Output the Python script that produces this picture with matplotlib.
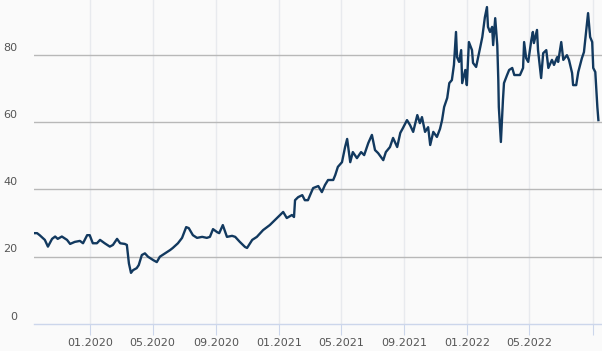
import matplotlib.pyplot as plt
import matplotlib.dates as mdates
from matplotlib.transforms import ScaledTranslation
import pandas as pd

dates = [
    "2019-09-14", "2019-09-20", "2019-09-25", "2019-10-05", "2019-10-11", "2019-10-19", "2019-10-25", "2019-10-30",
    "2019-11-07", "2019-11-17", "2019-11-23", "2019-12-02", "2019-12-12", "2019-12-18", "2019-12-26", "2019-12-31",
    "2020-01-06", "2020-01-14", "2020-01-20", "2020-01-29", "2020-02-08", "2020-02-14", "2020-02-22", "2020-02-28",
    "2020-03-08", "2020-03-12", "2020-03-16", "2020-03-20", "2020-03-24", "2020-03-31", "2020-04-04", "2020-04-10",
    "2020-04-16", "2020-04-22", "2020-05-02", "2020-05-09", "2020-05-15", "2020-05-25", "2020-06-04", "2020-06-09",
    "2020-06-19", "2020-06-27", "2020-07-05", "2020-07-10", "2020-07-18", "2020-07-26", "2020-08-05", "2020-08-14",
    "2020-08-20", "2020-08-26", "2020-09-03", "2020-09-07", "2020-09-14", "2020-09-22", "2020-10-02", "2020-10-08",
    "2020-10-17", "2020-10-27", "2020-10-31", "2020-11-10", "2020-11-19", "2020-12-01", "2020-12-14", "2020-12-24",
    "2021-01-03", "2021-01-09", "2021-01-16", "2021-01-26", "2021-01-30", "2021-02-01", "2021-02-07", "2021-02-15",
    "2021-02-20", "2021-02-26", "2021-03-08", "2021-03-18", "2021-03-25", "2021-03-31", "2021-04-06", "2021-04-16",
    "2021-04-20", "2021-04-25", "2021-05-03", "2021-05-09", "2021-05-13", "2021-05-19", "2021-05-24", "2021-06-01",
    "2021-06-09", "2021-06-15", "2021-06-23", "2021-06-30", "2021-07-06", "2021-07-12", "2021-07-22", "2021-07-27",
    "2021-08-04", "2021-08-10", "2021-08-18", "2021-08-24", "2021-08-29", "2021-09-06", "2021-09-12", "2021-09-18",
    "2021-09-26", "2021-10-01", "2021-10-05", "2021-10-11", "2021-10-17", "2021-10-21", "2021-10-27", "2021-11-03",
    "2021-11-09", "2021-11-13", "2021-11-17", "2021-11-23", "2021-11-27", "2021-12-02", "2021-12-06", "2021-12-10",
    "2021-12-12", "2021-12-16", "2021-12-20", "2021-12-22", "2021-12-28", "2021-12-31", "2022-01-04", "2022-01-10",
    "2022-01-12", "2022-01-18", "2022-01-22", "2022-01-26", "2022-01-30", "2022-01-31", "2022-02-04", "2022-02-08",
    "2022-02-10", "2022-02-14", "2022-02-18", "2022-02-20", "2022-02-24", "2022-02-28", "2022-03-02", "2022-03-03",
    "2022-03-07", "2022-03-11", "2022-03-13", "2022-03-19", "2022-03-23", "2022-03-29", "2022-04-02", "2022-04-07",
    "2022-04-13", "2022-04-19", "2022-04-21", "2022-04-25", "2022-04-29", "2022-05-05", "2022-05-08", "2022-05-10",
    "2022-05-16", "2022-05-18", "2022-05-24", "2022-05-28", "2022-06-03", "2022-06-07", "2022-06-14", "2022-06-18",
    "2022-06-24", "2022-06-26", "2022-07-02", "2022-07-06", "2022-07-13", "2022-07-17", "2022-07-23", "2022-07-25",
    "2022-07-31", "2022-08-04", "2022-08-11", "2022-08-15", "2022-08-19", "2022-08-23", "2022-08-27", "2022-08-31",
    "2022-09-02", "2022-09-06", "2022-09-10", "2022-09-12",
]

prices = [
    27.0, 27.0, 26.4, 25.0, 23.0, 25.3, 26.0, 25.3,
    26.0, 25.0, 23.8, 24.4, 24.7, 24.0, 26.4, 26.4,
    24.0, 24.0, 25.0, 24.0, 23.0, 23.5, 25.3, 24.0,
    23.8, 23.5, 18.0, 15.2, 16.0, 16.6, 17.5, 20.5,
    21.0, 20.0, 19.0, 18.4, 20.0, 21.0, 22.0, 22.6,
    24.0, 25.6, 28.8, 28.5, 26.4, 25.6, 25.9, 25.6,
    25.9, 28.2, 27.3, 27.0, 29.4, 25.9, 26.2, 25.9,
    24.4, 22.9, 22.6, 25.0, 25.9, 27.9, 29.4, 30.9,
    32.4, 33.3, 31.5, 32.4, 31.8, 36.8, 37.7, 38.3,
    36.8, 36.8, 40.4, 41.0, 39.2, 41.3, 42.8, 42.8,
    44.3, 46.7, 48.1, 52.6, 55.0, 48.1, 51.1, 49.3,
    51.1, 50.2, 53.8, 56.2, 51.7, 50.8, 48.7, 51.1,
    52.6, 55.3, 52.6, 56.8, 58.2, 60.6, 59.1, 57.1,
    62.1, 59.7, 61.5, 57.1, 58.5, 53.2, 57.1, 55.6,
    58.0, 60.6, 64.5, 67.2, 71.6, 72.5, 77.0, 86.8,
    79.3, 77.9, 81.4, 71.6, 75.5, 71.0, 83.8, 81.4,
    77.6, 76.4, 79.3, 82.3, 85.3, 86.5, 91.2, 94.2,
    88.3, 86.8, 88.3, 82.9, 90.9, 82.9, 72.5, 64.5,
    54.1, 66.6, 71.6, 74.0, 75.5, 76.1, 74.0, 74.0,
    74.0, 76.1, 83.8, 79.0, 77.9, 84.4, 86.8, 83.5,
    87.4, 81.4, 73.1, 80.5, 81.4, 76.1, 78.5, 77.0,
    79.3, 77.9, 83.8, 78.5, 79.9, 78.5, 74.6, 71.0,
    71.0, 74.9, 79.0, 80.8, 86.5, 92.4, 85.3, 83.8,
    76.1, 74.9, 64.5, 60.6,
]

tick_dates = ["2020-01-01", "2020-05-01", "2020-09-01", "2021-01-01", "2021-05-01",
              "2021-09-01", "2022-01-01", "2022-05-01", "2022-09-01"]
tick_labels = ["01.2020", "05.2020", "09.2020", "01.2021", "05.2021",
               "09.2021", "01.2022", "05.2022", ""]
y_ticks = [0, 20, 40, 60, 80]

x = pd.to_datetime(dates)
ticks = pd.to_datetime(tick_dates)

fig = plt.figure(figsize=(6.02, 3.51), dpi=100)
fig.patch.set_facecolor("#fafafa")
ax = fig.add_axes([34 / 602, 27 / 351, 568 / 602, 324 / 351])
ax.set_facecolor("#fafafa")

# vertical grid (light) and horizontal grid (darker)
for t in ticks:
    ax.axvline(t, color="#e8eaee", lw=1, zorder=0)
for v in y_ticks[1:]:
    ax.axhline(v, color="#b8b8b8", lw=1, zorder=1)

ax.plot(x, prices, color="#12395f", lw=1.7, zorder=3)

ax.set_xlim(pd.Timestamp("2019-09-14"), pd.Timestamp("2022-09-19"))
ax.set_ylim(0, 96.3)

for s in ["top", "right", "left"]:
    ax.spines[s].set_visible(False)
ax.spines["bottom"].set_color("#ccd6eb")
ax.spines["bottom"].set_linewidth(1)

ax.set_xticks(ticks)
ax.set_xticklabels(tick_labels)
ax.tick_params(axis="x", length=8, color="#ccd6eb", labelsize=8, labelcolor="#555555", pad=2)
ax.set_yticks(y_ticks)
ax.set_yticklabels([str(v) for v in y_ticks])
ax.tick_params(axis="y", length=0, labelsize=8, labelcolor="#555555", pad=12)

off = ScaledTranslation(0, 6 / 72, fig.dpi_scale_trans)
for lab in ax.get_yticklabels():
    lab.set_transform(lab.get_transform() + off)

fig.savefig("out.png", dpi=100, facecolor=fig.get_facecolor())
